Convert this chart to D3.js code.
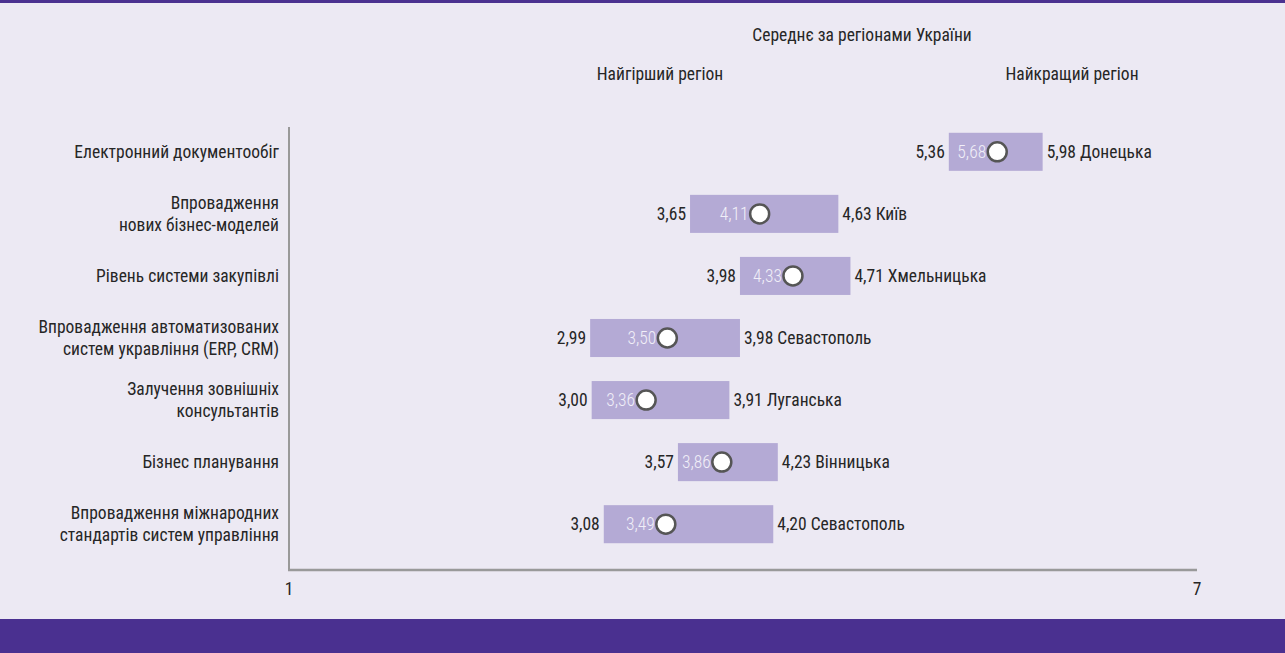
<!DOCTYPE html>
<html>
<head>
<meta charset="utf-8">
<script src="https://cdn.jsdelivr.net/npm/d3@7"></script>
<style>
  html, body { margin: 0; padding: 0; background: #ece9f3; }
  svg { display: block; }
  text { font-family: "Roboto Condensed", "Liberation Sans", sans-serif; font-size: 17.5px; font-weight: 400; fill: #262626; }
</style>
</head>
<body>
<svg id="chart" width="1285" height="653"></svg>
<script>
"use strict";

const categories = [
  ["Електронний документообіг"],
  ["Впровадження", "нових бізнес-моделей"],
  ["Рівень системи закупівлі"],
  ["Впровадження автоматизованих", "систем укравління (ERP, CRM)"],
  ["Залучення зовнішніх", "консультантів"],
  ["Бізнес планування"],
  ["Впровадження міжнародних", "стандартів систем управління"]
];
const minValues = [5.36, 3.65, 3.98, 2.99, 3.00, 3.57, 3.08];
const meanValues = [5.68, 4.11, 4.33, 3.50, 3.36, 3.86, 3.49];
const maxValues = [5.98, 4.63, 4.71, 3.98, 3.91, 4.23, 4.20];
const bestRegions = ["Донецька", "Київ", "Хмельницька", "Севастополь", "Луганська", "Вінницька", "Севастополь"];
const axisTicks = [1, 7];

const fmt = (v) => d3.format(".2f")(v).replace(".", ",");

const svg = d3.select("#chart");

svg.append("rect").attr("x", 0).attr("y", 0).attr("width", 1285).attr("height", 3).attr("fill", "#4b3190");
svg.append("rect").attr("x", 0).attr("y", 619).attr("width", 1285).attr("height", 34).attr("fill", "#4a3090");

const x = d3.scaleLinear().domain([1, 7]).range([289, 1197]);
const y = d3.scaleBand().domain(d3.range(categories.length)).range([121, 555]).paddingInner(0.387).paddingOuter(0.19);

// headers
svg.append("text").attr("x", 862).attr("y", 41).attr("text-anchor", "middle").text("Середнє за регіонами України");
svg.append("text").attr("x", 660).attr("y", 80).attr("text-anchor", "middle").text("Найгірший регіон");
svg.append("text").attr("x", 1072).attr("y", 80).attr("text-anchor", "middle").text("Найкращий регіон");

// axes
svg.append("line").attr("x1", 289).attr("x2", 289).attr("y1", 127).attr("y2", 571)
  .attr("stroke", "#999").attr("stroke-width", 2);
svg.append("line").attr("x1", 288).attr("x2", 1197).attr("y1", 570).attr("y2", 570)
  .attr("stroke", "#999").attr("stroke-width", 2.5);
svg.selectAll(".tick-label").data(axisTicks).enter().append("text")
  .attr("x", (d) => x(d)).attr("y", 595).attr("text-anchor", "middle").text((d) => d);

const rows = svg.selectAll(".row").data(categories).enter().append("g")
  .attr("transform", (d, i) => `translate(0,${y(i)})`);

const bh = y.bandwidth();

rows.append("rect")
  .attr("x", (d, i) => x(minValues[i]))
  .attr("y", 0)
  .attr("width", (d, i) => x(maxValues[i]) - x(minValues[i]))
  .attr("height", bh)
  .attr("fill", "#b4aad5");

rows.append("text")
  .attr("x", 279)
  .attr("text-anchor", "end")
  .each(function (d) {
    const t = d3.select(this);
    const start = bh / 2 + 6 - (d.length - 1) * 11;
    d.forEach((line, k) => {
      t.append("tspan").attr("x", 279).attr("y", start + k * 22).text(line);
    });
  });

rows.append("text")
  .attr("x", (d, i) => x(minValues[i]) - 4)
  .attr("y", bh / 2 + 6)
  .attr("text-anchor", "end")
  .text((d, i) => fmt(minValues[i]));

rows.append("text")
  .attr("x", (d, i) => x(meanValues[i]) - 11)
  .attr("y", bh / 2 + 6)
  .attr("text-anchor", "end")
  .style("fill", "#f1eff8")
  .style("font-weight", 300)
  .text((d, i) => fmt(meanValues[i]));

rows.append("circle")
  .attr("cx", (d, i) => x(meanValues[i]))
  .attr("cy", bh / 2)
  .attr("r", 9.5)
  .attr("fill", "#fff")
  .attr("stroke", "#555")
  .attr("stroke-width", 2.5);

rows.append("text")
  .attr("x", (d, i) => x(maxValues[i]) + 4)
  .attr("y", bh / 2 + 6)
  .text((d, i) => `${fmt(maxValues[i])} ${bestRegions[i]}`);
</script>
</body>
</html>
